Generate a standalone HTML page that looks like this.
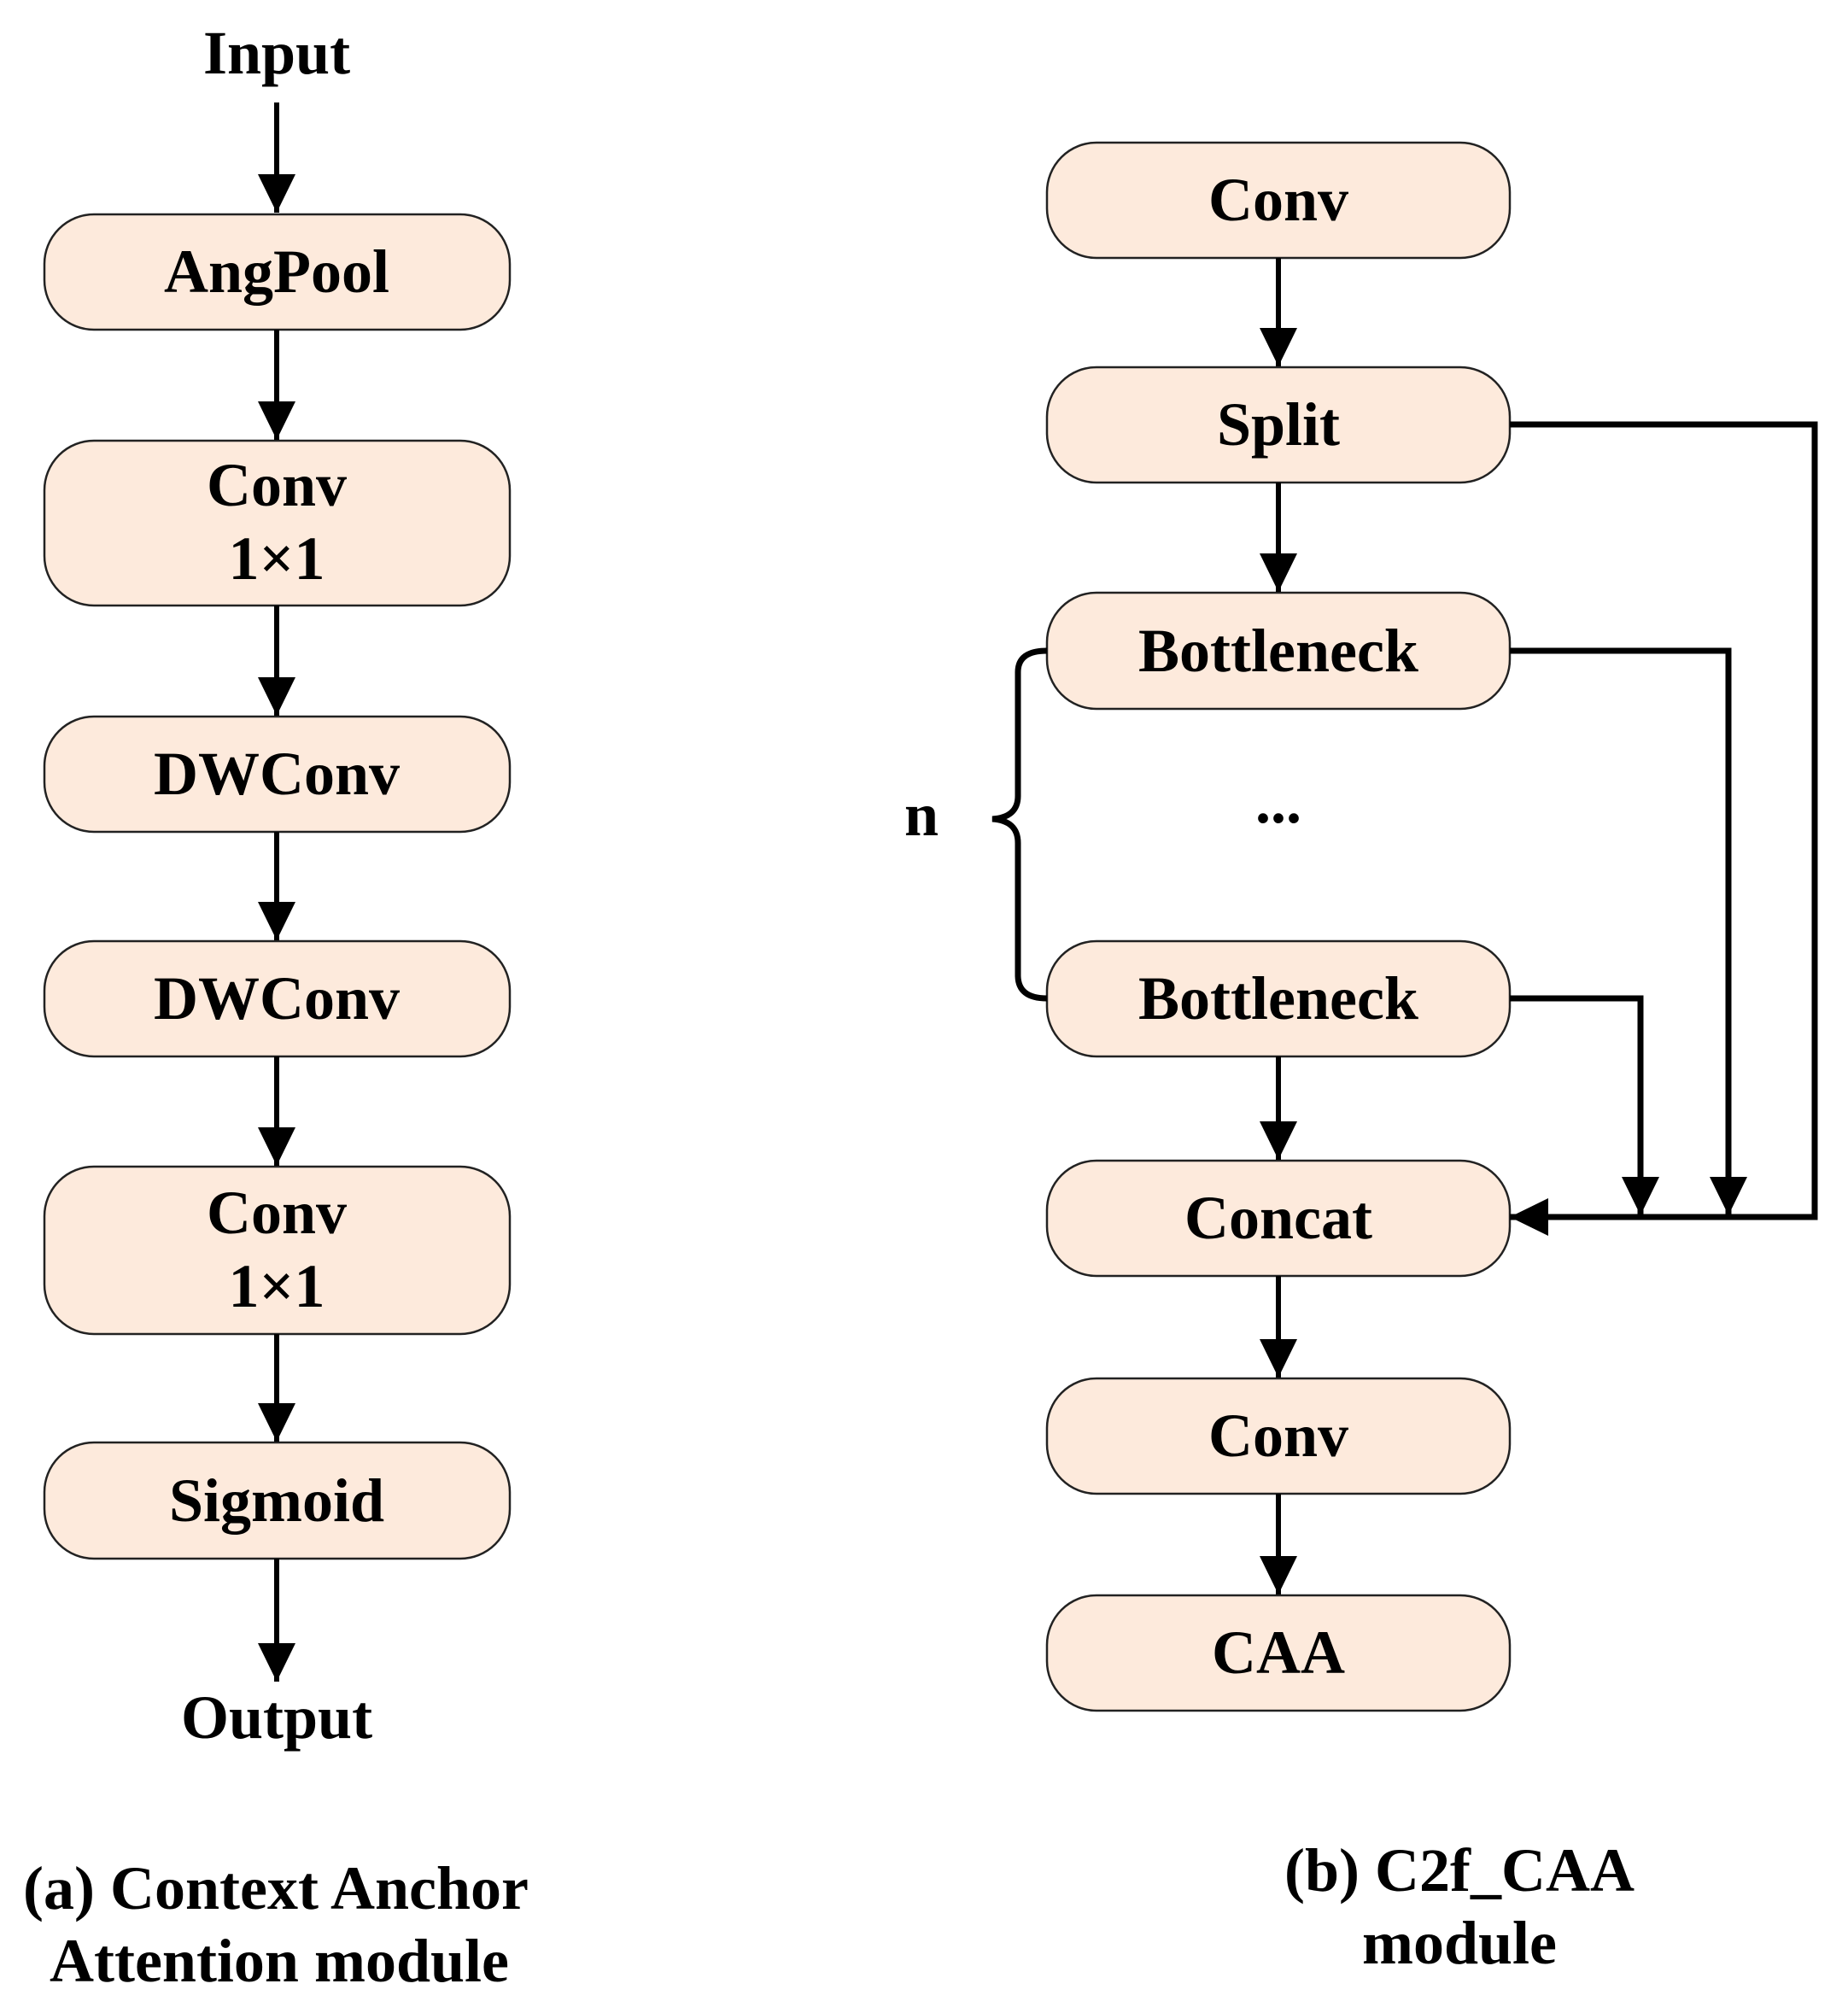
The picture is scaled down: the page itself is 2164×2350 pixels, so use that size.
<!DOCTYPE html>
<html><head><meta charset="utf-8"><style>
html,body{margin:0;padding:0;background:#fff;}
svg{display:block;}
text{font-family:"Liberation Serif",serif;font-weight:bold;fill:#000;text-anchor:middle;}
</style></head><body>
<svg width="2164" height="2350" viewBox="0 0 2164 2350" xmlns="http://www.w3.org/2000/svg">
<defs>
<marker id="ah" markerWidth="45" markerHeight="44" refX="45" refY="22" orient="auto" markerUnits="userSpaceOnUse">
<path d="M0,0 L45,22 L0,44 Z" fill="#000"/>
</marker>
</defs>
<g transform="translate(-3,-3)">
<g fill="#fdeadc" stroke="#222" stroke-width="2.5">
<rect x="55" y="254" width="545" height="135" rx="58"/>
<rect x="55" y="519" width="545" height="193" rx="58"/>
<rect x="55" y="842" width="545" height="135" rx="58"/>
<rect x="55" y="1105" width="545" height="135" rx="58"/>
<rect x="55" y="1369" width="545" height="196" rx="58"/>
<rect x="55" y="1692" width="545" height="136" rx="58"/>
<rect x="1229" y="170" width="542" height="135" rx="58"/>
<rect x="1229" y="433" width="542" height="135" rx="58"/>
<rect x="1229" y="697" width="542" height="136" rx="58"/>
<rect x="1229" y="1105" width="542" height="135" rx="58"/>
<rect x="1229" y="1362" width="542" height="135" rx="58"/>
<rect x="1229" y="1617" width="542" height="135" rx="58"/>
<rect x="1229" y="1871" width="542" height="135" rx="58"/>
</g>
<g stroke="#000" stroke-width="6" fill="none" marker-end="url(#ah)">
<line x1="327" y1="123" x2="327" y2="252"/>
<line x1="327" y1="389" x2="327" y2="518"/>
<line x1="327" y1="712" x2="327" y2="841"/>
<line x1="327" y1="977" x2="327" y2="1104"/>
<line x1="327" y1="1240" x2="327" y2="1368"/>
<line x1="327" y1="1565" x2="327" y2="1691"/>
<line x1="327" y1="1828" x2="327" y2="1972"/>
<line x1="1500" y1="305" x2="1500" y2="432"/>
<line x1="1500" y1="568" x2="1500" y2="696"/>
<line x1="1500" y1="1240" x2="1500" y2="1361"/>
<line x1="1500" y1="1497" x2="1500" y2="1616"/>
<line x1="1500" y1="1752" x2="1500" y2="1870"/>
</g>
<g stroke="#000" stroke-width="7" fill="none">
<polyline points="1771,500 2128,500 2128,1428 1771,1428" marker-end="url(#ah)"/>
<polyline points="1771,765 2027,765 2027,1426" marker-end="url(#ah)"/>
<polyline points="1771,1172 1924,1172 1924,1426" marker-end="url(#ah)"/>
<path d="M1229,765 Q1195,765 1195,790 L1195,935 Q1195,960 1165,962 Q1195,964 1195,990 L1195,1145 Q1195,1172 1229,1172"/>
</g>
<g font-size="72">
<text x="327" y="89">Input</text>
<text x="327" y="345">AngPool</text>
<text x="327" y="595">Conv</text>
<text x="327" y="681">1×1</text>
<text x="327" y="933">DWConv</text>
<text x="327" y="1196">DWConv</text>
<text x="327" y="1447">Conv</text>
<text x="327" y="1533">1×1</text>
<text x="327" y="1784">Sigmoid</text>
<text x="327" y="2038">Output</text>
<text x="1500" y="261">Conv</text>
<text x="1500" y="524">Split</text>
<text x="1500" y="789">Bottleneck</text>
<text x="1500" y="1196">Bottleneck</text>
<text x="1500" y="1453">Concat</text>
<text x="1500" y="1708">Conv</text>
<text x="1500" y="1962">CAA</text>
<text x="1082" y="981">n</text>
<text x="1500" y="966">...</text>
</g>
<g font-size="72">
<text x="326" y="2238">(a) Context Anchor</text>
<text x="330" y="2323">Attention module</text>
<text x="1712" y="2217">(b) C2f_CAA</text>
<text x="1712" y="2302">module</text>
</g>
</g>
</svg>
</body></html>
